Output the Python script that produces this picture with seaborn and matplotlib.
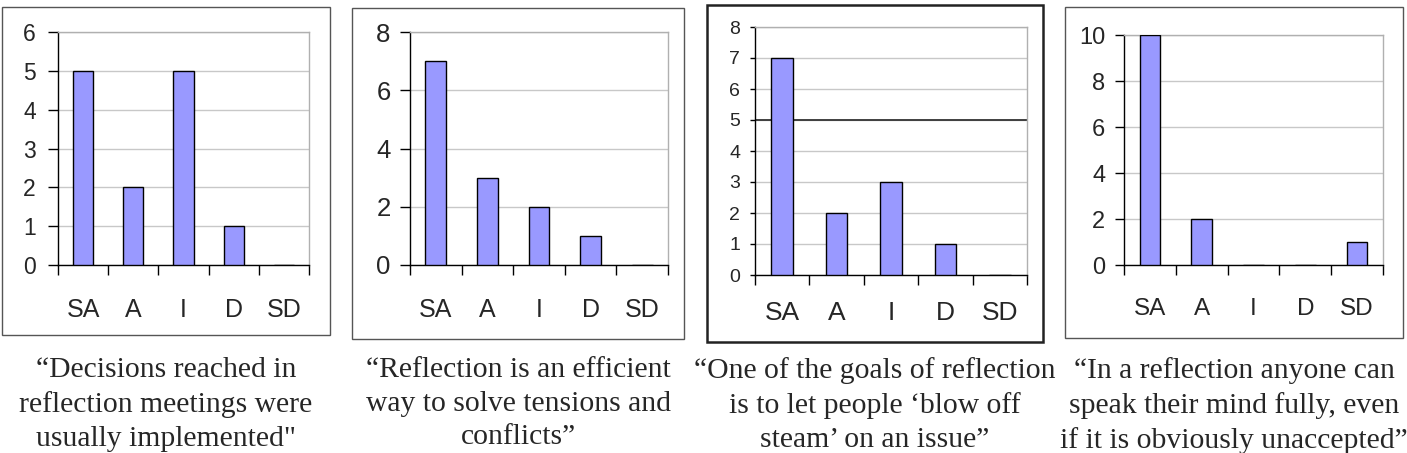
import matplotlib
matplotlib.use("Agg")
import matplotlib.pyplot as plt
import seaborn as sns
import pandas as pd
from matplotlib.patches import Rectangle

# Survey answers per statement
categories = ["SA", "A", "I", "D", "SD"]
counts_decisions = [5, 2, 5, 1, 0]
counts_tensions = [7, 3, 2, 1, 0]
counts_steam = [7, 2, 3, 1, 0]
counts_speak = [10, 2, 0, 0, 1]

captions = [
    "\u201cDecisions reached in\nreflection meetings were\nusually implemented\"",
    "\u201cReflection is an efficient\nway to solve tensions and\nconflicts\u201d",
    "\u201cOne of the goals of reflection\nis to let people \u2018blow off\nsteam\u2019 on an issue\u201d",
    "\u201cIn a reflection anyone can\nspeak their mind fully, even\nif it is obviously unaccepted\u201d",
]

sns.set_theme(style="white")
plt.rcParams["font.family"] = ["Liberation Sans", "DejaVu Sans"]

W, H = 1407, 453
fig = plt.figure(figsize=(W / 100, H / 100), dpi=100)


def rect(l, t, r, b):
    return [l / W, 1 - b / H, (r - l) / W, (b - t) / H]


panels = [
    # values, axes box (px), outer box (px), ymax, ystep,
    # y font, y tick len, y pad, x font, x pad, frame width, frame colour
    (counts_decisions, (58, 32, 309, 265), (2, 7, 330, 335), 6, 1, 16.5, 7, 9, 18, 23.5, 1.0, "#555555"),
    (counts_tensions, (410, 32, 668, 265), (352, 8, 684, 339), 8, 2, 18.5, 7, 7, 18, 23.5, 1.0, "#555555"),
    (counts_steam, (755, 27, 1027, 275), (707, 5, 1043, 342), 8, 1, 14, 3.6, 7, 19, 19, 1.8, "#222222"),
    (counts_speak, (1124, 35, 1383, 265), (1065, 7, 1403, 338), 10, 2, 17, 6.5, 7, 17.5, 23.5, 1.0, "#555555"),
]

for i, (vals, ab, ob, ymax, ystep, yfs, ylen, ypad, xfs, xpad, bw, bc) in enumerate(panels):
    # outer frame
    fig.patches.append(Rectangle((ob[0] / W, 1 - ob[3] / H), (ob[2] - ob[0]) / W,
                                 (ob[3] - ob[1]) / H, transform=fig.transFigure,
                                 fill=False, edgecolor=bc, linewidth=bw))
    ax = fig.add_axes(rect(*ab))
    df = pd.DataFrame({"cat": categories, "n": vals})
    sns.barplot(data=df, x="cat", y="n", ax=ax, color="#9999ff", saturation=1,
                edgecolor="black", linewidth=1.0, width=0.4, zorder=3)
    ax.set_xlim(-0.5, 4.5)
    ax.set_ylim(0, ymax)
    ax.set_yticks(range(0, ymax + 1, ystep))
    ax.set_xlabel("")
    ax.set_ylabel("")
    ax.yaxis.grid(True, color="#c8c8c8", linewidth=1.0, zorder=0)
    ax.set_axisbelow(True)
    if i == 2:
        ax.axhline(5, color="#333333", linewidth=1.3, zorder=1)
    for s in ["top", "right"]:
        ax.spines[s].set_color("#b0b0b0")
        ax.spines[s].set_linewidth(1.0)
    for s in ["left", "bottom"]:
        ax.spines[s].set_color("black")
        ax.spines[s].set_linewidth(1.0)
    ax.set_xticks([k - 0.5 for k in range(6)], minor=True)
    ax.tick_params(axis="x", which="minor", bottom=True, length=7, width=1, color="black")
    ax.tick_params(axis="x", which="major", bottom=False, length=0, pad=xpad, labelsize=xfs)
    ax.tick_params(axis="y", left=True, length=ylen, width=1, color="black", pad=ypad, labelsize=yfs)
    # caption below the panel
    cx = (ob[0] + ob[2]) / 2 / W
    fig.text(cx, 1 - 357 / H, captions[i], ha="center", va="top", fontsize=21.3,
             family="Liberation Serif", linespacing=1.38)

fig.savefig("out.png", dpi=100)
